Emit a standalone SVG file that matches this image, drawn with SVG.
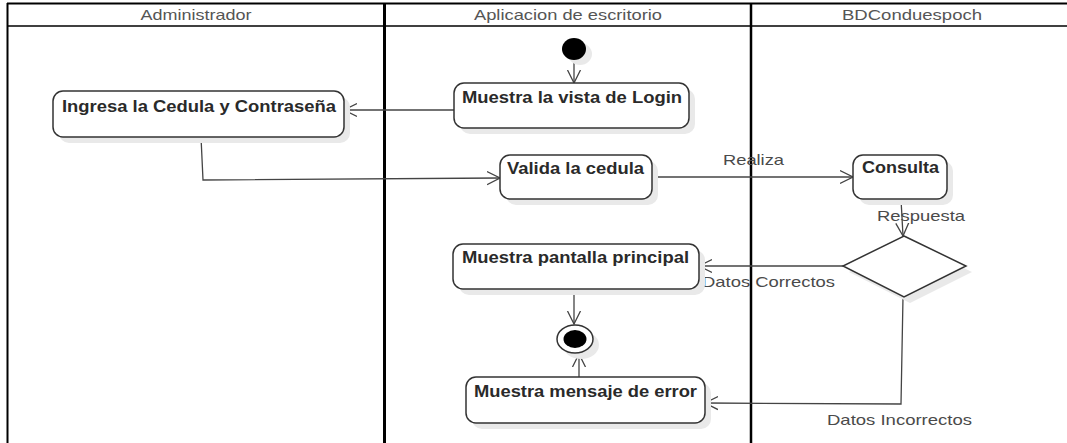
<svg xmlns="http://www.w3.org/2000/svg" width="1067" height="443" viewBox="0 0 1067 443">
<defs>
<style>
.frame{stroke:#000;fill:none}
.box{fill:#fff;stroke:#333;stroke-width:1.5}
.sh{fill:#e9e9e9;stroke:none}
.lbl{font-family:"Liberation Sans",Arial,sans-serif;font-size:15px;fill:#4a4a4a}
.btxt{font-family:"Liberation Sans",Arial,sans-serif;font-size:16px;font-weight:bold;fill:#2a2a2a}
.hdr{font-family:"Liberation Sans",Arial,sans-serif;font-size:15px;fill:#555;text-anchor:middle}
.con{fill:none;stroke:#444;stroke-width:1.3;marker-end:url(#arr)}
</style>
<marker id="arr" viewBox="0 0 14 16" refX="13" refY="8" markerWidth="14" markerHeight="16" markerUnits="userSpaceOnUse" orient="auto">
<path d="M0,1.5 L13,8 L0,14.5" fill="none" stroke="#444" stroke-width="1.3"/>
</marker>
</defs>
<rect width="1067" height="443" fill="#fff"/>

<g id="lanes">
<line class="frame" x1="7.5" y1="3" x2="7.5" y2="443" stroke-width="2"/>
<line class="frame" x1="7" y1="3.5" x2="1067" y2="3.5" stroke-width="2"/>
<line class="frame" x1="7" y1="26" x2="1067" y2="26" stroke-width="1.5"/>
<line class="frame" x1="384.5" y1="3" x2="384.5" y2="443" stroke-width="3"/>
<line class="frame" x1="751" y1="3" x2="751" y2="443" stroke-width="2.5"/>
<text class="hdr" x="196" y="20" textLength="111" lengthAdjust="spacingAndGlyphs">Administrador</text>
<text class="hdr" x="568" y="20" textLength="188" lengthAdjust="spacingAndGlyphs">Aplicacion de escritorio</text>
<text class="hdr" x="912" y="20" textLength="140" lengthAdjust="spacingAndGlyphs">BDConduespoch</text>
</g>

<g id="connectors">
<line class="con" x1="574" y1="60" x2="574" y2="83"/>
<line class="con" x1="454" y1="110" x2="344" y2="110"/>
<path class="con" d="M201,137 L203,180 L500,178"/>
<line class="con" x1="652" y1="177" x2="853" y2="177"/>
<line class="con" x1="901" y1="199" x2="903" y2="236"/>
<line class="con" x1="843" y1="266" x2="699" y2="266"/>
<path class="con" d="M903,297 L901,404 L705,403"/>
<line class="con" x1="574" y1="289" x2="574" y2="324"/>
<line class="con" x1="579" y1="377" x2="579" y2="354"/>
<text class="lbl" x="723" y="165" textLength="61" lengthAdjust="spacingAndGlyphs">Realiza</text>
<text class="lbl" x="877" y="221" textLength="88" lengthAdjust="spacingAndGlyphs">Respuesta</text>
<text class="lbl" x="702" y="287" textLength="133" lengthAdjust="spacingAndGlyphs">Datos Correctos</text>
<text class="lbl" x="827" y="425" textLength="145" lengthAdjust="spacingAndGlyphs">Datos Incorrectos</text>
</g>

<g id="initial">
<ellipse class="sh" cx="580" cy="54" rx="12" ry="11"/>
<ellipse cx="574" cy="49" rx="12" ry="11" fill="#000"/>
</g>

<g id="login">
<rect class="sh" x="460" y="89" width="235" height="45" rx="10"/>
<rect class="box" x="454" y="83" width="235" height="45" rx="10"/>
<text class="btxt" x="462" y="103" textLength="220" lengthAdjust="spacingAndGlyphs">Muestra la vista de Login</text>
</g>

<g id="ingresa">
<rect class="sh" x="59" y="97" width="291" height="46" rx="10"/>
<rect class="box" x="53" y="91" width="291" height="46" rx="10"/>
<text class="btxt" x="62" y="112" textLength="274" lengthAdjust="spacingAndGlyphs">Ingresa la Cedula y Contraseña</text>
</g>

<g id="valida">
<rect class="sh" x="506" y="161" width="152" height="44" rx="10"/>
<rect class="box" x="500" y="155" width="152" height="44" rx="10"/>
<text class="btxt" x="507" y="174" textLength="137" lengthAdjust="spacingAndGlyphs">Valida la cedula</text>
</g>

<g id="consulta">
<rect class="sh" x="859" y="161" width="94" height="44" rx="10"/>
<rect class="box" x="853" y="155" width="94" height="44" rx="10"/>
<text class="btxt" x="862" y="173" textLength="77" lengthAdjust="spacingAndGlyphs">Consulta</text>
</g>

<g id="decision">
<polygon class="sh" points="910,242 972,272 910,303 849,272"/>
<polygon fill="#fff" stroke="#333" stroke-width="1.5" points="904,236 966,266 904,297 843,266"/>
</g>

<g id="pantalla">
<rect class="sh" x="459" y="250" width="246" height="45" rx="10"/>
<rect class="box" x="453" y="244" width="246" height="45" rx="10"/>
<text class="btxt" x="462" y="263" textLength="227" lengthAdjust="spacingAndGlyphs">Muestra pantalla principal</text>
</g>

<g id="final">
<ellipse class="sh" cx="581" cy="345" rx="18" ry="14"/>
<ellipse cx="575" cy="339" rx="18" ry="14" fill="#fff" stroke="#333" stroke-width="1.5"/>
<ellipse cx="575" cy="339" rx="11.5" ry="9" fill="#000"/>
</g>

<g id="error">
<rect class="sh" x="472" y="383" width="239" height="46" rx="10"/>
<rect class="box" x="466" y="377" width="239" height="46" rx="10"/>
<text class="btxt" x="474" y="397" textLength="223" lengthAdjust="spacingAndGlyphs">Muestra mensaje de error</text>
</g>
</svg>
